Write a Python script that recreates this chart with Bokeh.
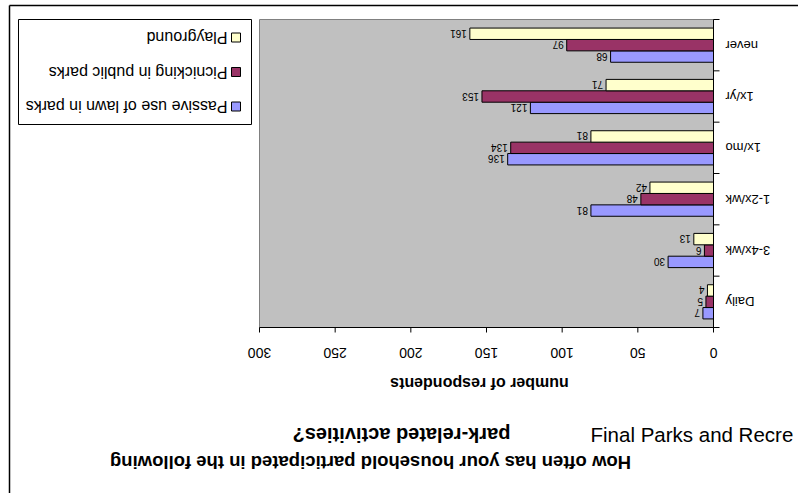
from math import pi
from bokeh.plotting import figure
from bokeh.models import Range1d, ColumnDataSource
from bokeh.transform import dodge
from bokeh.core.properties import value
from bokeh.embed import file_html
from bokeh.resources import INLINE

# ---- data ----
categories = ["Daily", "3-4x/wk", "1-2x/wk", "1x/mo", "1x/yr", "never"]
series_names = ["Passive use of lawn in parks", "Picnicking in public parks", "Playground"]
passive = [7, 30, 81, 136, 121, 68]
picnic = [5, 6, 48, 134, 153, 97]
playground = [4, 13, 42, 81, 71, 161]
x_ticks = [0, 50, 100, 150, 200, 250, 300]
colors = ["#9999FF", "#993366", "#FFFFCC"]
axis_title = "number of respondents"
title_lines = ["How often has your household participated in the following",
               "park-related activities?"]
header_text = "Final Parks and Recre"

FONT = value("Liberation Sans")
W, H = 798, 493
n = len(categories)
xmax = x_ticks[-1]

# plot-area box (page pixels): value 0 at right edge, categories bottom-up
PA_L, PA_R, PA_T, PA_B = 259, 713, 19, 327
ppx = (PA_R - PA_L) / xmax
ppy = (PA_B - PA_T) / n

def vx(px):
    return (PA_R - px) / ppx

def vy(py):
    return (PA_B - py) / ppy

p = figure(width=W, height=H, x_range=Range1d(vx(0), vx(W)), y_range=Range1d(vy(H), vy(0)),
           x_axis_location=None, y_axis_location=None, min_border=0,
           output_backend="svg", toolbar_location=None, title=None,
           background_fill_color="white", border_fill_color="white",
           outline_line_color=None)
p.grid.visible = False

# outer chart border (top and left visible)
p.segment(x0=[vx(9), vx(9)], y0=[vy(5), vy(5)], x1=[vx(W + 5), vx(9)], y1=[vy(5), vy(H + 5)],
          line_color="black", line_width=1.5)

# plot area
p.quad(left=[xmax], right=[0], bottom=[0], top=[n], fill_color="#C0C0C0",
       line_color="#808080", line_width=1)

src = ColumnDataSource(dict(cat=categories, pos=[i + 0.5 for i in range(n)],
                            passive=passive, picnic=picnic, playground=playground,
                            passive_t=[str(v) for v in passive],
                            picnic_t=[str(v) for v in picnic],
                            playground_t=[str(v) for v in playground]))

bh = 0.222
offsets = [-bh, 0.0, bh]
fields = ["passive", "picnic", "playground"]
for f, off, c in zip(fields, offsets, colors):
    yy = dodge("pos", off)
    p.hbar(y=yy, left=0, right=f, height=bh, fill_color=c, line_color="black",
           line_width=1, source=src)
    p.text(x=f, y=yy, text=f + "_t", angle=pi, text_align="left", text_baseline="middle",
           x_offset=-3, text_font_size="10px", text_font=FONT, text_color="black", source=src)

# value axis (bottom) and category axis (right)
p.segment(x0=[0, 0], y0=[0, 0], x1=[xmax, 0], y1=[0, n], line_color="black", line_width=1)
p.segment(x0=x_ticks, y0=[0] * len(x_ticks), x1=x_ticks, y1=[-5 / ppy] * len(x_ticks),
          line_color="black", line_width=1)
edges = list(range(n + 1))
p.segment(x0=[0] * len(edges), y0=edges, x1=[-6 / ppx] * len(edges), y1=edges,
          line_color="black", line_width=1)

# x tick labels (upside down)
p.text(x=x_ticks, y=[vy(352)] * len(x_ticks), text=[str(t) for t in x_ticks], angle=pi,
       text_align="center", text_baseline="middle", text_font_size="14px", text_font=FONT,
       text_color="black")

# category labels
p.text(x=vx(725), y="pos", text="cat", source=src, angle=pi, text_align="right",
       text_baseline="middle", text_font_size="13px", text_font=FONT, text_color="black")

# axis title
p.text(x=[vx(479)], y=[vy(383)], text=[axis_title], angle=pi, text_align="center",
       text_baseline="middle", text_font_size="16px", text_font_style="bold", text_font=FONT)

# chart title (upside down, two lines)
p.text(x=[vx(370)], y=[vy(462)], text=[title_lines[0]], angle=pi,
       text_align="center", text_baseline="middle", text_font_size="18.5px",
       text_font_style="bold", text_font=FONT)
p.text(x=[vx(401)], y=[vy(434)], text=[title_lines[1]], angle=pi,
       text_align="center", text_baseline="middle", text_font_size="20px",
       text_font_style="bold", text_font=FONT)

# header text (upright)
p.text(x=[vx(590)], y=[vy(434)], text=[header_text], text_align="left",
       text_baseline="middle", text_font_size="20.5px", text_font=FONT)

# legend
p.quad(left=[vx(18)], right=[vx(251)], top=[vy(19)], bottom=[vy(124)],
       fill_color="white", line_color="black", line_width=1)
leg_rows = [106, 71.5, 37]
p.quad(left=[vx(231)] * 3, right=[vx(240)] * 3,
       top=[vy(r - 4.5) for r in leg_rows], bottom=[vy(r + 4.5) for r in leg_rows],
       fill_color=colors, line_color="black", line_width=1)
p.text(x=[vx(227)] * 3, y=[vy(r) for r in leg_rows], text=series_names, angle=pi,
       text_align="left", text_baseline="middle", text_font_size="16px", text_font=FONT)

open("out.html", "w").write(file_html(p, INLINE))
